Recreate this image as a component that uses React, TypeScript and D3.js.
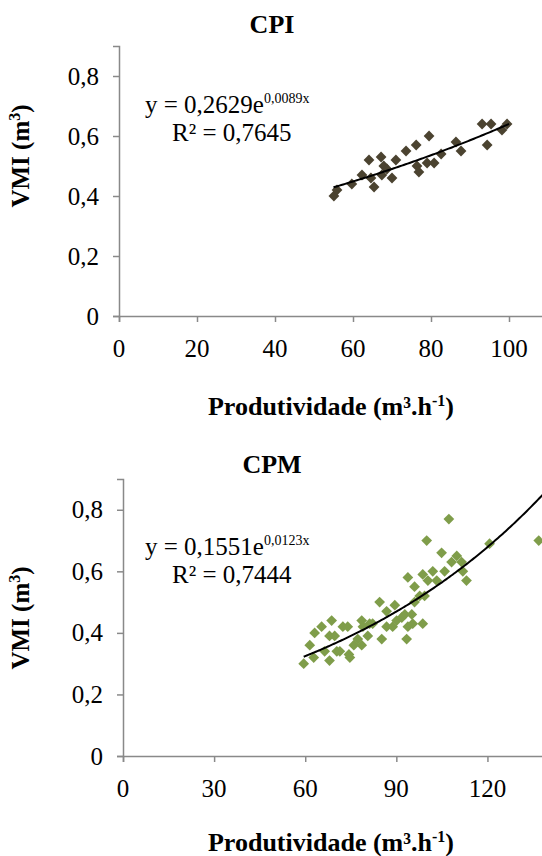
import React, { useEffect, useRef } from "react";
import * as d3 from "d3";

// CPI sample (produtividade, VMI)
const cpiX = [55.1, 55.9, 59.7, 62.3, 64.1, 64.6, 65.4, 67.2, 67.9, 67.4, 68.7, 70.0, 71.0, 73.6, 76.2, 76.4, 76.9, 79.5, 79.0, 80.8, 82.6, 86.4, 87.7, 93.1, 95.4, 94.4, 98.2, 99.5];
const cpiY = [0.40, 0.42, 0.44, 0.47, 0.52, 0.46, 0.43, 0.53, 0.50, 0.47, 0.49, 0.46, 0.52, 0.55, 0.57, 0.50, 0.48, 0.60, 0.51, 0.51, 0.54, 0.58, 0.55, 0.64, 0.64, 0.57, 0.62, 0.64];

// CPM sample
const cpmX = [59.5, 61.5, 62.8, 63.1, 65.4, 66.4, 68.0, 68.7, 68.0, 69.7, 70.4, 71.4, 72.4, 74.0, 74.4, 74.7, 76.0, 77.3, 78.6, 78.6, 79.0, 80.6, 81.2, 82.2, 84.5, 85.2, 86.8, 86.8, 88.8, 89.5, 90.1, 91.8, 92.8, 93.4, 93.8, 95.1, 95.4, 93.8, 96.0, 96.0, 97.7, 98.7, 98.7, 99.3, 100.4, 102.0, 103.3, 100.0, 104.9, 105.9, 107.3, 108.2, 109.9, 111.5, 111.9, 113.1, 120.7, 136.9];
const cpmY = [0.30, 0.36, 0.32, 0.40, 0.42, 0.34, 0.31, 0.44, 0.39, 0.39, 0.34, 0.34, 0.42, 0.42, 0.33, 0.32, 0.36, 0.38, 0.44, 0.36, 0.42, 0.39, 0.43, 0.43, 0.50, 0.38, 0.47, 0.42, 0.42, 0.49, 0.44, 0.45, 0.46, 0.38, 0.42, 0.46, 0.43, 0.58, 0.55, 0.50, 0.52, 0.43, 0.59, 0.52, 0.57, 0.60, 0.57, 0.70, 0.66, 0.60, 0.77, 0.63, 0.65, 0.63, 0.60, 0.57, 0.69, 0.70];

const yTicks = [0, 0.2, 0.4, 0.6, 0.8];
const cpiXTicks = [0, 20, 40, 60, 80, 100];
const cpmXTicks = [0, 30, 60, 90, 120];

const fmt = (v: number) => d3.format("~g")(v).replace(".", ",");

const FONT = "'Liberation Serif', 'Times New Roman', serif";

type PanelProps = {
  title: string;
  xs: number[];
  ys: number[];
  xTicks: number[];
  xMax: number;
  a: number;
  b: number;
  aLabel: string;
  bLabel: string;
  r2Label: string;
  color: string;
  fitFrom: number;
  fitTo: number;
  left: number;
  top: number;
  bottom: number;
  pxPerUnit: number;
  titleY: number;
  yTitleY: number;
  eqY: number;
  xTitleY: number;
};

function Panel(p: PanelProps) {
  const gx = useRef<SVGGElement>(null);
  const gy = useRef<SVGGElement>(null);

  const x = d3.scaleLinear().domain([0, p.xMax]).range([p.left, p.left + p.xMax * p.pxPerUnit]);
  const y = d3.scaleLinear().domain([0, 0.9]).range([p.bottom, p.top]);

  useEffect(() => {
    const xa = d3.axisBottom(x).tickValues(p.xTicks).tickSize(6).tickFormat(() => "");
    const ya = d3.axisLeft(y).tickValues(yTicks).tickSize(6).tickFormat(() => "");
    const sx = d3.select(gx.current!).call(xa);
    const sy = d3.select(gy.current!).call(ya);
    [sx, sy].forEach((s) => {
      s.selectAll("path").attr("stroke", "#898989").attr("stroke-width", 1.5);
      s.selectAll("line").attr("stroke", "#898989").attr("stroke-width", 1.5);
    });
  }, []);

  const pts = p.xs.map((v, i) => [v, p.ys[i]]);
  const fit = d3.range(p.fitFrom, p.fitTo + 0.01, 0.5).map((v) => [v, p.a * Math.exp(p.b * v)] as [number, number]);
  const line = d3.line<[number, number]>().x((d) => x(d[0])).y((d) => y(d[1]));
  const diamond = d3.symbol().type(d3.symbolSquare).size(58)()!;

  return (
    <g fontFamily={FONT}>
      <text x={272} y={p.titleY} textAnchor="middle" fontWeight="bold" fontSize={26}>{p.title}</text>
      <text transform={`translate(${29}, ${p.yTitleY}) rotate(-90)`} textAnchor="middle" fontWeight="bold" fontSize={25}>
        VMI (m<tspan dy={-9} fontSize={16}>3</tspan><tspan dy={9}>)</tspan>
      </text>
      <g ref={gx} transform={`translate(0, ${p.bottom})`} />
      <g ref={gy} transform={`translate(${p.left}, 0)`} />
      {yTicks.map((t) => (
        <text key={t} x={p.left - 20} y={y(t) + 8.5} textAnchor="end" fontSize={25}>{fmt(t)}</text>
      ))}
      {p.xTicks.map((t) => (
        <text key={t} x={x(t)} y={p.bottom + 41} textAnchor="middle" fontSize={25}>{fmt(t)}</text>
      ))}
      <text x={331} y={p.xTitleY} textAnchor="middle" fontWeight="bold" fontSize={26}>
        Produtividade (m³.h<tspan dy={-9} fontSize={16}>-1</tspan><tspan dy={9}>)</tspan>
      </text>
      <text x={145} y={p.eqY} fontSize={25}>
        y = {p.aLabel}e<tspan dy={-10} fontSize={14}>{p.bLabel}</tspan>
      </text>
      <text x={172} y={p.eqY + 28} fontSize={25}>R² = {p.r2Label}</text>
      {pts.map(([vx, vy], i) => (
        <path key={i} d={diamond} transform={`translate(${x(vx)}, ${y(vy)}) rotate(45)`} fill={p.color} />
      ))}
      <path d={line(fit)!} fill="none" stroke="#000" strokeWidth={2} />
    </g>
  );
}

export default function App() {
  return (
    <svg width={542} height={856} style={{ position: "absolute", left: 0, top: 0, background: "#fff" }}>
      <Panel
        title="CPI" xs={cpiX} ys={cpiY} xTicks={cpiXTicks} xMax={110}
        a={0.2629} b={0.0089} aLabel="0,2629" bLabel="0,0089x" r2Label="0,7645"
        color="#4b4330" fitFrom={55} fitTo={100}
        left={119} top={46} bottom={316} pxPerUnit={3.9}
        titleY={33} yTitleY={156} eqY={113} xTitleY={415}
      />
      <Panel
        title="CPM" xs={cpmX} ys={cpmY} xTicks={cpmXTicks} xMax={150}
        a={0.1551} b={0.0123} aLabel="0,1551" bLabel="0,0123x" r2Label="0,7444"
        color="#7f9d4a" fitFrom={59.5} fitTo={139}
        left={123} top={479} bottom={756} pxPerUnit={3.037}
        titleY={473} yTitleY={618} eqY={555} xTitleY={851}
      />
    </svg>
  );
}
